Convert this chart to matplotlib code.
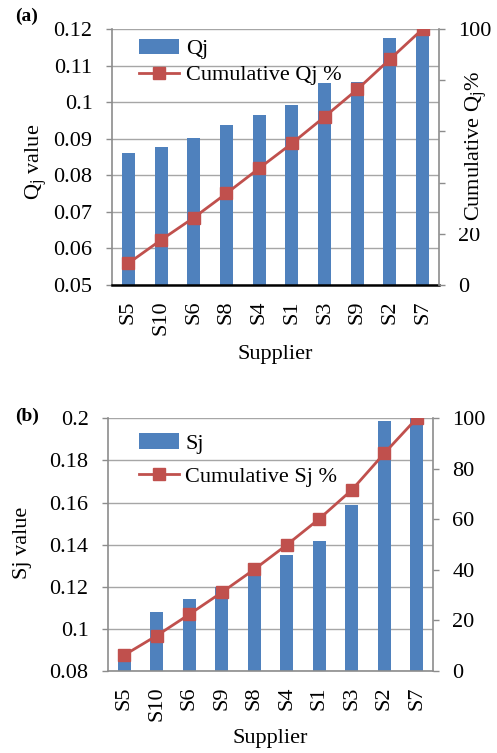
import numpy as np
import matplotlib
matplotlib.use('Agg')
import matplotlib.pyplot as plt

# panel (a)
suppliers_a = ['S5', 'S10', 'S6', 'S8', 'S4', 'S1', 'S3', 'S9', 'S2', 'S7']
qj = [0.0861, 0.0878, 0.0902, 0.0937, 0.0964, 0.0992, 0.1053, 0.1056, 0.1176, 0.1184]
cum_qj = [8.5, 17.6, 26.3, 35.8, 45.6, 55.3, 65.7, 76.4, 88.2, 100.0]

# panel (b)
suppliers_b = ['S5', 'S10', 'S6', 'S9', 'S8', 'S4', 'S1', 'S3', 'S2', 'S7']
sj = [0.0852, 0.1082, 0.1140, 0.1200, 0.1251, 0.1351, 0.1419, 0.1588, 0.1987, 0.2000]
cum_sj = [6.3, 14.0, 22.4, 31.1, 40.2, 49.9, 60.2, 71.6, 86.1, 100.0]

plt.rcParams['font.family'] = 'Liberation Serif'
fs = 16
blue = '#4F81BD'
red = '#C0504D'
grey = '#8c8c8c'

fig = plt.figure(figsize=(4.97, 7.53), dpi=100)


def panel(rect, cats, vals, cum, ylim, yticks, barlab, linelab, black_base,
          leg_anchor, leg_space, xlab_pad):
    ax1 = fig.add_axes(rect)
    x = np.arange(len(cats))
    ax1.bar(x, vals, width=0.4, color=blue, label=barlab, zorder=2)
    ax1.set_xlim(-0.5, len(cats) - 0.5)
    ax1.set_ylim(*ylim)
    ax1.set_yticks(yticks)
    ax1.set_yticklabels(['%g' % t for t in yticks], fontsize=fs)
    ax1.set_xticks(x)
    ax1.set_xticklabels(cats, rotation=90, fontsize=fs)
    ax1.tick_params(axis='x', length=0, pad=11)
    ax1.tick_params(axis='y', length=4, color=grey, width=1, pad=10)
    ax1.grid(axis='y', color='#a6a6a6', linewidth=1)
    ax1.set_axisbelow(True)
    ax1.set_xlabel('Supplier', fontsize=fs, labelpad=xlab_pad)
    for s in ['top', 'right']:
        ax1.spines[s].set_visible(False)
    ax1.spines['left'].set_color(grey)
    ax1.spines['left'].set_linewidth(1.2)
    if black_base:
        ax1.spines['bottom'].set_color('black')
        ax1.spines['bottom'].set_linewidth(1.8)
    else:
        ax1.spines['bottom'].set_color(grey)
        ax1.spines['bottom'].set_linewidth(1.2)

    ax2 = ax1.twinx()
    ax2.plot(x, cum, color=red, linewidth=2, marker='s', markersize=8,
             markerfacecolor=red, markeredgecolor=red, label=linelab, zorder=3)
    ax2.set_ylim(0, 100)
    ax2.set_yticks(np.arange(0, 101, 20))
    ax2.set_yticklabels([str(t) for t in range(0, 101, 20)], fontsize=fs)
    ax2.tick_params(axis='y', length=4, color=grey, width=1, pad=10)
    for s in ['top', 'left', 'bottom']:
        ax2.spines[s].set_visible(False)
    ax2.spines['right'].set_color(grey)
    ax2.spines['right'].set_linewidth(1.2)

    h1, l1 = ax1.get_legend_handles_labels()
    h2, l2 = ax2.get_legend_handles_labels()
    ax2.legend(h1 + h2, l1 + l2, loc='upper left', bbox_to_anchor=leg_anchor,
               frameon=False, fontsize=fs, handlelength=1.8, handletextpad=0.3,
               labelspacing=leg_space, borderaxespad=0.1)
    return ax1, ax2


axa1, axa2 = panel([0.2254, 0.6215, 0.6579, 0.3400], suppliers_a, qj, cum_qj,
                   (0.05, 0.12), np.round(np.arange(0.05, 0.1201, 0.01), 2),
                   'Qj', 'Cumulative Qj %', True, (0.05, 1.005), 0.25, 7)
axa1.set_ylabel('Q$_\\mathregular{j}$ value', fontsize=fs)
axa1.yaxis.set_label_coords(-0.19, 0.48)
# the right label sits over the 40-80 tick labels, as in the source figure
axa2.set_ylabel('Cumulative Q$_\\mathregular{j}$%', fontsize=fs,
                bbox=dict(facecolor='white', edgecolor='none', pad=5.5))
axa2.yaxis.set_label_coords(1.075, 0.545)

axb1, axb2 = panel([0.2173, 0.1089, 0.6539, 0.3356], suppliers_b, sj, cum_sj,
                   (0.08, 0.2), np.round(np.arange(0.08, 0.2001, 0.02), 2),
                   'Sj', 'Cumulative Sj %', False, (0.06, 0.985), 0.55, 6)
axb1.set_ylabel('Sj value', fontsize=fs)
axb1.yaxis.set_label_coords(-0.235, 0.507)

fig.text(0.03, 0.99, '(a)', fontsize=fs - 2, fontweight='bold', va='top')
fig.text(0.03, 0.458, '(b)', fontsize=fs - 2, fontweight='bold', va='top')

fig.savefig('out.png', dpi=100)
